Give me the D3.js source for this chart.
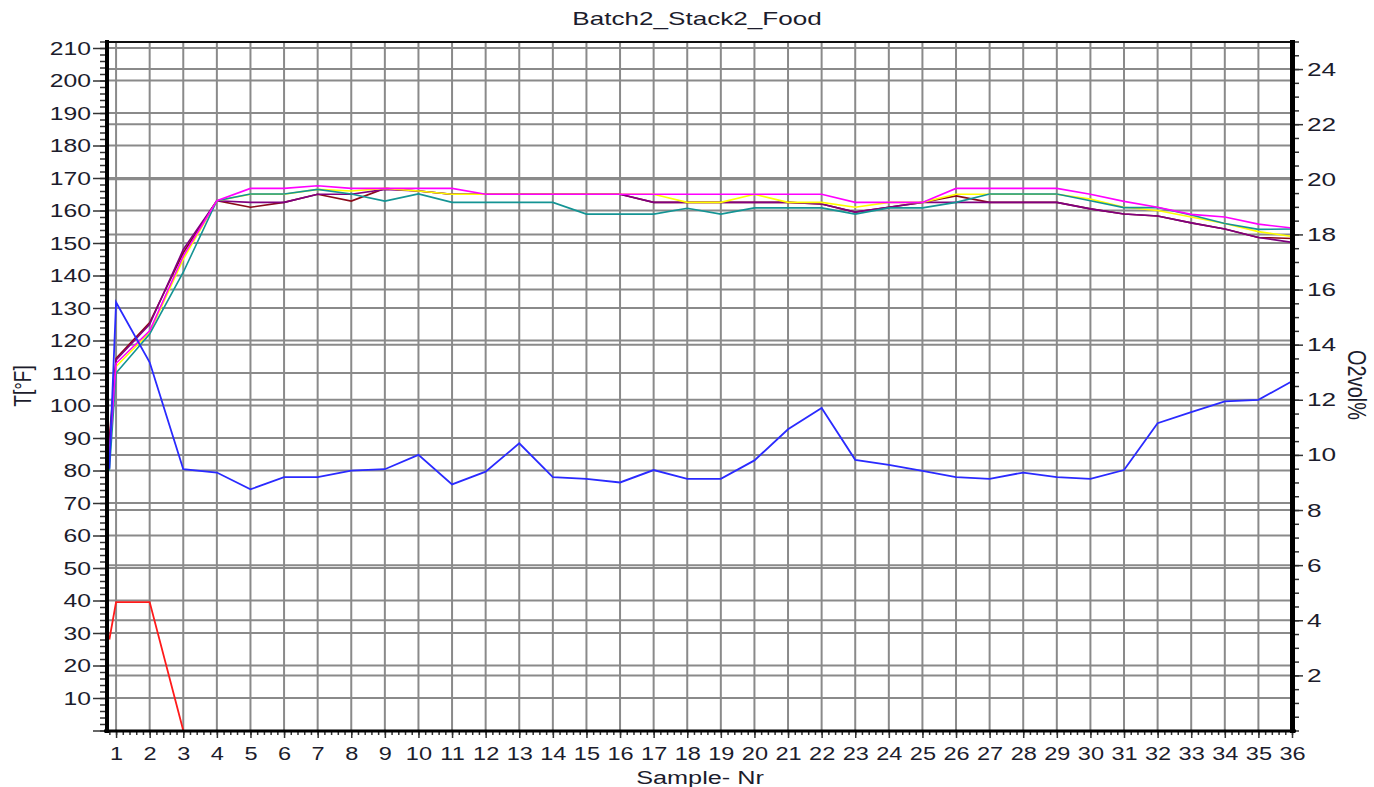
<!DOCTYPE html>
<html>
<head>
<meta charset="utf-8">
<script src="https://cdn.jsdelivr.net/npm/d3@7"></script>
<style>
  body { margin: 0; background: #fff; }
  svg text { font-family: "Liberation Sans", Arial, sans-serif; fill: #1c1c2c; }
</style>
</head>
<body>
<svg id="chart"></svg>
<script>
// sample positions (first reading sits just left of sample 1)
const sampleNr = [0.8, 1, 2, 3, 4, 5, 6, 7, 8, 9, 10, 11, 12, 13, 14, 15, 16, 17, 18,
  19, 20, 21, 22, 23, 24, 25, 26, 27, 28, 29, 30, 31, 32, 33, 34, 35, 36]

// temperatures, T[°F]
const tempMaroon = [90, 114.5, 125.5, 147, 163, 161, 162.5, 165, 162.9, 166.8, 166, 165, 165, 165, 165, 165, 165,
  162.5, 162.5, 162.5, 162.5, 162.5, 162, 159.5, 161, 162.5, 164.5, 162.5, 162.5, 162.5, 160.5, 158.9, 158.3,
  156.2, 154.3, 151.7, 151.4]
const tempPurple = [88, 114, 125, 148, 163, 162.5, 162.5, 165, 165, 166.5, 166, 165, 165, 165, 165, 165, 165,
  162.5, 162.5, 162.5, 162.5, 162.5, 162, 159.5, 161, 162.5, 162.5, 162.5, 162.5, 162.5, 160.5, 158.9, 158.3,
  156.2, 154.3, 151.7, 150.2]
const tempYellow = [84, 112, 122.5, 145, 163, 165, 165, 166.5, 166, 166.8, 166, 165, 165, 165, 165, 165, 165,
  165, 162.5, 162.5, 165, 162.5, 162.5, 161, 162.5, 162.5, 165, 165, 165, 165, 163.5, 161, 160,
  158, 156, 153.5, 152]
const tempTeal = [80, 110, 122, 141, 163, 165.1, 165.1, 166.5, 165.1, 162.9, 165.1, 162.5, 162.5, 162.5, 162.5,
  158.9, 158.9, 158.9, 160.7, 158.9, 160.8, 160.8, 160.8, 158.9, 160.8, 160.8, 162.5, 165.1, 165.1, 165.1, 163,
  160.9, 160.9, 158.6, 156, 154.2, 154.3]
const tempMagenta = [85, 113, 123, 146, 163, 166.8, 166.8, 167.6, 166.8, 166.8, 166.8, 166.8, 165, 165, 165, 165,
  165, 165, 165, 165, 165, 165, 165, 162.5, 162.5, 162.5, 166.8, 166.8, 166.8, 166.8, 165, 162.8, 161, 158.8,
  158, 155.8, 154.6]

// oxygen, O2vol% (right axis)
const o2 = [9.5, 15.54, 13.36, 9.48, 9.36, 8.75, 9.19, 9.19, 9.43, 9.48, 10.0, 8.93, 9.39, 10.42, 9.19, 9.13, 9.0,
  9.45, 9.13, 9.13, 9.8, 10.93, 11.7, 9.82, 9.64, 9.42, 9.19, 9.13, 9.36, 9.19, 9.13, 9.45, 11.15, 11.55,
  11.94, 12.0, 12.67]

// red trace (left axis), only the first readings
const redSampleNr = [0.8, 1, 2, 3]
const redValues = [28, 39.5, 39.5, 0]

const xTicks = [1, 2, 3, 4, 5, 6, 7, 8, 9, 10, 11, 12, 13, 14, 15, 16, 17, 18,
  19, 20, 21, 22, 23, 24, 25, 26, 27, 28, 29, 30, 31, 32, 33, 34, 35, 36]
const leftTicks = [10, 20, 30, 40, 50, 60, 70, 80, 90, 100, 110, 120, 130, 140, 150, 160, 170, 180, 190, 200, 210]
const rightTicks = [2, 4, 6, 8, 10, 12, 14, 16, 18, 20, 22, 24]

const width = 1374
const height = 787
const sx = 1.3 // the reference text is stretched sideways

const x = d3.scaleLinear().domain([0.73, 36]).range([107, 1292])
const yL = d3.scaleLinear().domain([0, 212]).range([730.5, 41.5])
const yR = d3.scaleLinear().domain([0, 25]).range([730.5, 41.5])

const svg = d3.select("#chart").attr("width", width).attr("height", height)

svg.append("rect").attr("width", width).attr("height", height).attr("fill", "white")

/*
  Grid
*/
const grid = svg.append("g").attr("stroke", "#8a8a8a").attr("stroke-width", 2)
grid
  .selectAll(".vgrid")
  .data(xTicks.slice(0, -1))
  .enter()
  .append("line")
  .attr("x1", (d) => x(d))
  .attr("x2", (d) => x(d))
  .attr("y1", yL(212))
  .attr("y2", yL(0))
grid
  .selectAll(".hgridL")
  .data(leftTicks)
  .enter()
  .append("line")
  .attr("x1", x(0.73))
  .attr("x2", x(36))
  .attr("y1", (d) => yL(d))
  .attr("y2", (d) => yL(d))
grid
  .selectAll(".hgridR")
  .data(rightTicks)
  .enter()
  .append("line")
  .attr("x1", x(0.73))
  .attr("x2", x(36))
  .attr("y1", (d) => yR(d))
  .attr("y2", (d) => yR(d))

/*
  Lines
*/
const line = (yScale) =>
  d3
    .line()
    .x((d) => x(d[0]))
    .y((d) => yScale(d[1]))

const series = [
  { values: tempMaroon, color: "#8b0a1a" },
  { values: tempPurple, color: "#800080" },
  { values: tempYellow, color: "#ffff00" },
  { values: tempTeal, color: "#149494" },
  { values: tempMagenta, color: "#ff00ff" },
]

series.forEach((s) => {
  svg
    .append("path")
    .datum(d3.zip(sampleNr, s.values))
    .attr("fill", "none")
    .attr("stroke", s.color)
    .attr("stroke-width", 1.6)
    .attr("d", line(yL))
})

svg
  .append("path")
  .datum(d3.zip(sampleNr, o2))
  .attr("fill", "none")
  .attr("stroke", "#2a2aff")
  .attr("stroke-width", 1.8)
  .attr("d", line(yR))

svg
  .append("path")
  .datum(d3.zip(redSampleNr, redValues))
  .attr("fill", "none")
  .attr("stroke", "#ff1a1a")
  .attr("stroke-width", 1.8)
  .attr("d", line(yL))

/*
  Axes
*/
const styleAxis = (g) => {
  g.select(".domain").remove()
  g.selectAll(".tick line").attr("stroke", "#333").attr("stroke-width", 1.5)
  g.selectAll("text").attr("font-size", 19).style("fill", "#1c1c2c")
}

// left
svg
  .append("g")
  .attr("transform", "translate(106,0)")
  .call(d3.axisLeft(yL).tickValues(d3.range(0, 213, 2)).tickSize(6).tickFormat(""))
  .call(styleAxis)
svg
  .append("g")
  .attr("transform", "translate(106,0)")
  .call(d3.axisLeft(yL).tickValues([0].concat(leftTicks)).tickSize(13).tickFormat((d) => (d ? d : "")))
  .call(styleAxis)
  .call((g) => g.selectAll("text").attr("x", -15 / sx).attr("transform", `scale(${sx},1)`))

// right
svg
  .append("g")
  .attr("transform", "translate(1294,0)")
  .call(d3.axisRight(yR).tickValues(d3.range(0, 25.1, 0.5)).tickSize(5).tickFormat(""))
  .call(styleAxis)
svg
  .append("g")
  .attr("transform", "translate(1294,0)")
  .call(d3.axisRight(yR).tickValues(rightTicks).tickSize(9).tickFormat((d) => d))
  .call(styleAxis)
  .call((g) => g.selectAll("text").attr("x", 13 / 1.38).attr("transform", "scale(1.38,1)"))

// bottom
svg
  .append("g")
  .attr("transform", "translate(0,731)")
  .call(d3.axisBottom(x).tickValues(d3.range(0.8, 36.01, 0.2)).tickSize(4).tickFormat(""))
  .call(styleAxis)
svg
  .append("g")
  .attr("transform", "translate(0,731)")
  .call(d3.axisBottom(x).tickValues(xTicks).tickSize(7).tickPadding(9).tickFormat((d) => d))
  .call(styleAxis)
  .call((g) => g.selectAll("text").attr("transform", "scale(1.24,1)"))

// frame
svg.append("line").attr("x1", 106).attr("x2", 1294).attr("y1", 42).attr("y2", 42)
  .attr("stroke", "#111").attr("stroke-width", 2)
svg.append("line").attr("x1", 104).attr("x2", 1296).attr("y1", 731).attr("y2", 731)
  .attr("stroke", "#000").attr("stroke-width", 3)
svg.append("line").attr("x1", 107).attr("x2", 107).attr("y1", 40).attr("y2", 733)
  .attr("stroke", "#000").attr("stroke-width", 4)
svg.append("line").attr("x1", 1292.5).attr("x2", 1292.5).attr("y1", 40).attr("y2", 733)
  .attr("stroke", "#000").attr("stroke-width", 5)

/*
  Titles
*/
const label = (text, tx, ty, size, extra) =>
  svg
    .append("text")
    .attr("transform", `translate(${tx},${ty}) ${extra}`)
    .attr("text-anchor", "middle")
    .attr("font-size", size)
    .text(text)

label("Batch2_Stack2_Food", 697, 25, 18, "scale(1.45,1)")
label("Sample- Nr", 700, 784, 19, "scale(1.33,1)")
label("T[°F]", 31, 386, 19, "scale(1.3,1) rotate(-90)")
label("O2vol%", 1348, 385, 20, "scale(1.3,1) rotate(90)")
</script>
</body>
</html>
